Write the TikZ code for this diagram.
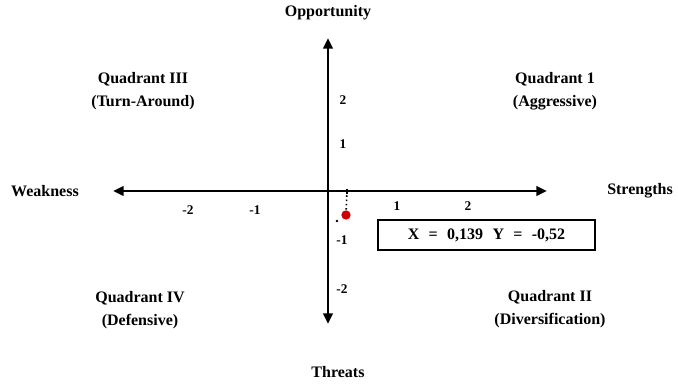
\documentclass[tikz,border=0pt]{standalone}
\usepackage{fontspec}
\setmainfont{Liberation Serif}
\usetikzlibrary{arrows.meta}
\begin{document}
\begin{tikzpicture}[x=0.75pt,y=-0.75pt,
  lbl/.style={font=\fontsize{12}{17}\selectfont\bfseries,align=center,inner sep=1pt},
  tick/.style={font=\fontsize{10}{11}\selectfont\bfseries,inner sep=1pt},
  axis/.style={line width=2.2pt,-{Triangle[length=8pt,width=7pt]}}]
\useasboundingbox (0,0) rectangle (678,384);
\coordinate (o) at (328,191);
\coordinate (top) at (328,38);
\coordinate (bot) at (328,324);
\coordinate (left) at (113,191);
\coordinate (right) at (547,191);
\draw[axis] (o) -- (top);
\draw[axis] (o) -- (bot);
\draw[axis] (o) -- (left);
\draw[axis] (o) -- (right);
\node[lbl] (opp) at (328,13) {Opportunity};
\node[lbl] (thr) at (338,372) {Threats};
\node[lbl] (weak) at (45,191) {Weakness};
\node[lbl] (str) at (640,191) {Strengths};
\node[lbl] (q3) at (143,91) {Quadrant III\\(Turn-Around)};
\node[lbl] (q1) at (555,91) {Quadrant 1\\(Aggressive)};
\node[lbl] (q4) at (140,310) {Quadrant IV\\(Defensive)};
\node[lbl] (q2) at (550,309) {Quadrant II\\(Diversification)};
\node[tick] (y2) at (343,100) {2};
\node[tick] (y1) at (343,144) {1};
\node[tick] (ym1) at (342,240) {-1};
\node[tick] (ym2) at (342,289) {-2};
\node[tick] (xm2) at (188,210) {-2};
\node[tick] (xm1) at (255,210) {-1};
\node[tick] (x1) at (397,206) {1};
\node[tick] (x2) at (468,206) {2};
\coordinate (tk) at (347,191);
\draw[line width=1pt] (347,189) -- (347,194);
\node[circle,fill=red!80!black,inner sep=0pt,minimum size=7pt] (pt) at (346,215) {};
\draw[line width=1.2pt,dotted] (tk) -- (pt);
\fill (337,221) circle (1pt);
\node[draw,line width=0.9pt,minimum width=162.75pt,minimum height=22.5pt,inner sep=0pt,font=\fontsize{12}{13}\selectfont\bfseries] (box) at (486.5,235) {X\hspace{7pt}=\hspace{7pt}0,139\hspace{7pt}Y\hspace{7pt}=\hspace{7pt}-0,52};
\end{tikzpicture}
\end{document}
